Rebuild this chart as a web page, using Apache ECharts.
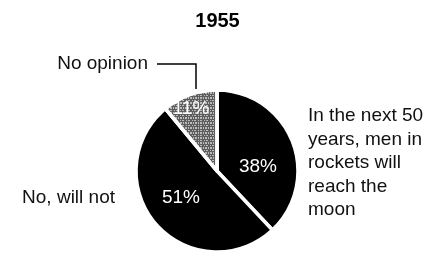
<!DOCTYPE html>
<html>
<head>
<meta charset="utf-8">
<title>1955</title>
<script src="https://cdn.jsdelivr.net/npm/echarts@6/dist/echarts.min.js"></script>
<style>
  html, body { margin: 0; padding: 0; background: #fff; }
</style>
</head>
<body>
<div id="main" style="width:435px;height:256px;"></div>
<script type="text/javascript">
// answers, clockwise from 12 o'clock
var answers = ['In the next 50\nyears, men in\nrockets will\nreach the\nmoon', 'No, will not', 'No opinion'];
var shares = [38, 51, 11];
var sliceColors = ['#000', '#000', '#5e5e5e'];

var chart = echarts.init(document.getElementById('main'));

// where the labels sit (label styling only)
var innerPos = [[258, 167], [181, 198], [191, 109]];
var outerPos = [
  {x: 308, y: 163, align: 'left'},
  {x: 115, y: 198, align: 'right'},
  {x: 148, y: 64, align: 'right'}
];

var pieData = shares.map(function (v, i) {
  var item = {name: answers[i], value: v, itemStyle: {color: sliceColors[i]}};
  if (i === 2) {
    // speckled grey like the printed screen
    item.itemStyle.decal = {
      symbol: 'rect',
      symbolSize: 1,
      dashArrayX: [[1, 1, 2, 2], [2, 1, 1, 1]],
      dashArrayY: [1, 1, 2, 1],
      color: 'rgba(210,210,210,0.8)'
    };
  }
  return item;
});

var base = {
  type: 'pie',
  center: [217, 171],
  radius: 81,
  startAngle: 90,
  clockwise: true,
  silent: true,
  animation: false
};

var txt = {fontFamily: 'Liberation Sans', fontSize: 19};

var option = {
  title: {
    text: '1955',
    left: 'center',
    top: 6,
    textStyle: {fontFamily: 'Liberation Sans', fontSize: 20, fontWeight: 'bold', color: '#000'}
  },
  series: [
    Object.assign({}, base, {
      itemStyle: {borderColor: '#fff', borderWidth: 3.5},
      label: Object.assign({
        show: true,
        position: 'inside',
        formatter: '{c}%',
        color: '#fff'
      }, txt),
      labelLayout: function (p) {
        var q = innerPos[p.dataIndex];
        return {x: q[0], y: q[1], align: 'center', verticalAlign: 'middle'};
      },
      data: pieData
    }),
    Object.assign({}, base, {
      itemStyle: {color: 'rgba(0,0,0,0)', borderWidth: 0},
      label: Object.assign({
        show: true,
        position: 'outside',
        formatter: '{b}',
        color: '#111',
        overflow: 'none',
        width: 200,
        lineHeight: 23.5
      }, txt),
      labelLine: {show: true, lineStyle: {color: '#000', width: 1.5}},
      labelLayout: function (p) {
        var q = outerPos[p.dataIndex];
        var res = {x: q.x, y: q.y, align: q.align, verticalAlign: 'middle'};
        if (p.dataIndex === 2) {
          res.labelLinePoints = [[196, 89], [196, 64], [q.x + 9, 64]];
        } else {
          res.labelLinePoints = [[0, 0], [0, 0], [0, 0]];
        }
        return res;
      },
      data: shares.map(function (v, i) { return {name: answers[i], value: v}; })
    })
  ]
};

chart.setOption(option);
</script>
</body>
</html>
